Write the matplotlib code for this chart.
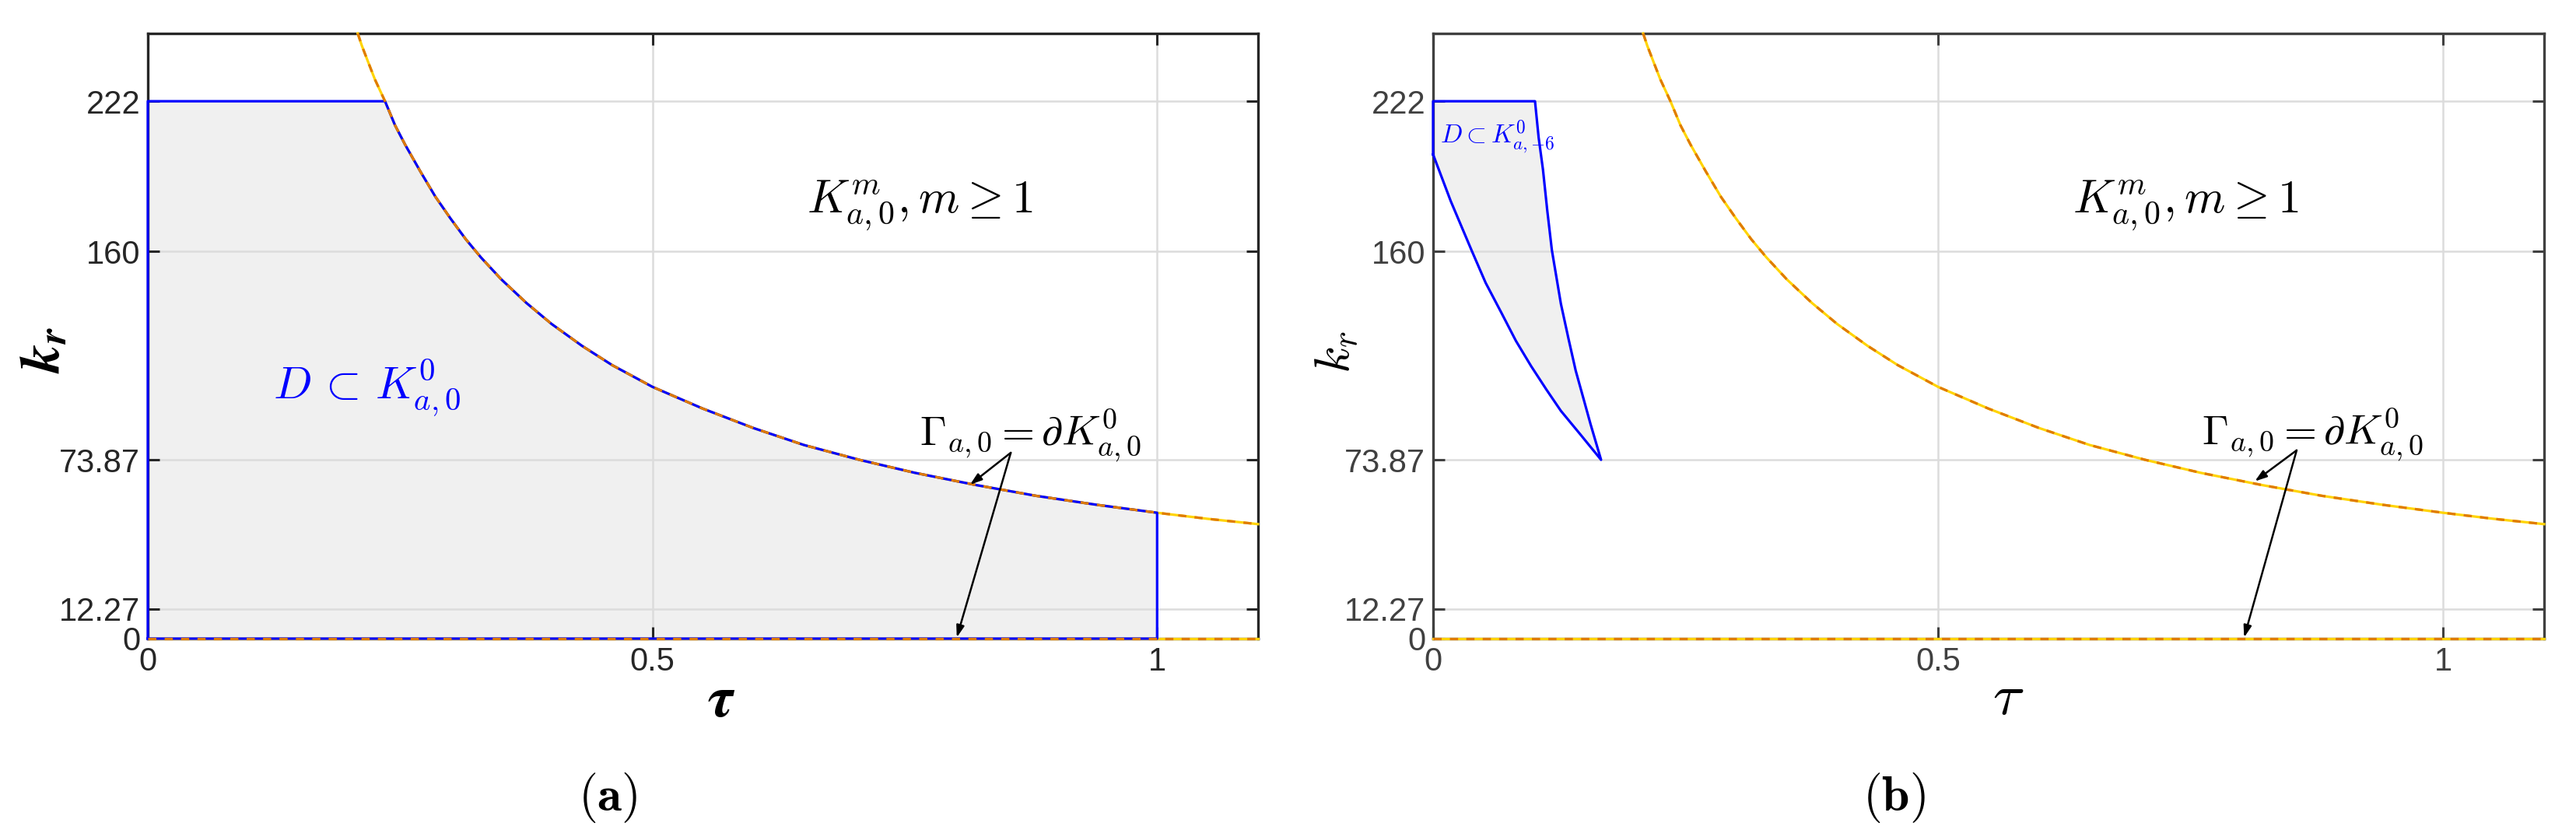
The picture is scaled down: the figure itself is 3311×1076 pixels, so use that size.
import matplotlib
matplotlib.use("Agg")
import matplotlib.pyplot as plt

plt.rcParams['font.family'] = ['Liberation Sans', 'DejaVu Sans']
plt.rcParams['mathtext.fontset'] = 'cm'

# boundary curve Gamma
tau_g = [0.208, 0.212, 0.218, 0.225, 0.235, 0.245, 0.255, 0.27, 0.285, 0.3, 0.315, 0.33,
         0.35, 0.375, 0.4, 0.43, 0.46, 0.5, 0.55, 0.6, 0.65, 0.705, 0.76, 0.82, 0.88,
         0.94, 1.0, 1.05, 1.1]
k_g = [250, 245, 238.5, 231, 222, 212, 204, 193, 182.5, 173.5, 165, 157.5,
       148.5, 138.7, 130, 121, 113, 104, 95, 87, 80, 73.87, 68.5, 63.5, 59,
       55.3, 52, 49.5, 47.3]

# region D in panel (b)
tau_b_right = [0.1009, 0.1045, 0.1088, 0.113, 0.1176, 0.1265, 0.134, 0.1412, 0.149, 0.1559, 0.1663]
k_b_right = [222, 207, 193.7, 177, 160.5, 138.4, 124, 110.7, 99, 88.6, 73.87]
tau_b_left = [0.1663, 0.1465, 0.1265, 0.112, 0.097, 0.082, 0.0675, 0.052, 0.038, 0.0174, 0.0]
k_b_left = [73.87, 84, 94.1, 103, 112.6, 123, 134.7, 147, 160.5, 180.8, 200]

k_top = 222
tau_a_end = 1.0
yticks = [0, 12.27, 73.87, 160, 222]
ylabels = ['0', '12.27', '73.87', '160', '222']
xticks = [0, 0.5, 1]
xlabels = ['0', '0.5', '1']

blue = '#0000FF'
orange = '#E07B00'
yellow = '#FFD400'
fillc = '#F0F0F0'

fig = plt.figure(figsize=(33.12, 10.76), dpi=100)
ax1 = fig.add_axes([0.05737, 0.23699, 0.43086, 0.72305])
ax2 = fig.add_axes([0.55616, 0.23699, 0.43116, 0.72305])

for ax, col in [(ax1, '#262626'), (ax2, '#404040')]:
    ax.set_xlim(0, 1.1)
    ax.set_ylim(0, 250)
    ax.set_xticks(xticks, xlabels)
    ax.set_yticks(yticks, ylabels)
    ax.tick_params(direction='in', length=11, width=2.2, top=True, right=True,
                   labelsize=30, pad=7, colors=col)
    ax.grid(True, color='#DCDCDC', lw=1.8)
    for s in ax.spines.values():
        s.set_linewidth(2.4)
        s.set_color(col)

    # Gamma: yellow base, drawn on both panels
    ax.plot(tau_g, k_g, color=yellow, lw=2.3, zorder=3, clip_on=False)
    ax.plot([0, 1.1], [0, 0], color=yellow, lw=2.3, zorder=3, clip_on=False)

# panel (a): region D
d_tau = [0, 0] + [t for t in tau_g if 0.235 <= t <= tau_a_end] + [tau_a_end, 0]
d_k = [0, k_top] + [k for t, k in zip(tau_g, k_g) if 0.235 <= t <= tau_a_end] + [0, 0]
ax1.fill(d_tau, d_k, color=fillc, zorder=1, lw=0)
ax1.plot(d_tau, d_k, color=blue, lw=2.3, zorder=3.5, clip_on=False)

# panel (b): region D
b_tau = [0, 0] + tau_b_right + tau_b_left
b_k = [200, k_top] + k_b_right + k_b_left
ax2.fill(b_tau, b_k, color=fillc, zorder=1, lw=0)
ax2.plot(b_tau, b_k, color=blue, lw=2.3, zorder=3.5, clip_on=False)

for ax in (ax1, ax2):
    ax.plot(tau_g, k_g, color=orange, lw=2.3, dashes=(3.3, 3.3), zorder=4, clip_on=False)
    ax.plot([0, 1.1], [0, 0], color=orange, lw=2.3, dashes=(3.3, 3.3), zorder=4, clip_on=False)

# texts
ax1.text(0.765, 176, r'$K^m_{a,0}, m \geq 1$', fontsize=43, ha='center', va='baseline')
ax2.text(0.745, 176, r'$K^m_{a,0}, m \geq 1$', fontsize=43, ha='center', va='baseline')
ax1.text(0.124, 99, r'$D\,\subset\,K^0_{a,0}$', fontsize=42, color=blue, ha='left', va='baseline')
ax2.text(0.007, 204.7, r'$D{\subset}K^0_{a,\mathsf{-6}}$', fontsize=24, color=blue,
         ha='left', va='baseline')
ax1.text(0.7645, 79.7, r'$\Gamma_{a,0} = \partial K^0_{a,0}$', fontsize=39, ha='left', va='baseline')
ax2.text(0.761, 80, r'$\Gamma_{a,0} = \partial K^0_{a,0}$', fontsize=39, ha='left', va='baseline')

arrow = dict(arrowstyle='-|>,head_length=0.9,head_width=0.3', color='black', lw=1.8,
             shrinkA=0, shrinkB=0)
for ax, tail, h1, h2 in [(ax1, (0.855, 76.8), (0.8146, 63.6), (0.8015, 0.5)),
                         (ax2, (0.855, 77.8), (0.8136, 65), (0.803, 0.5))]:
    ax.annotate('', xy=h1, xytext=tail, arrowprops=arrow, zorder=6)
    ax.annotate('', xy=h2, xytext=tail, arrowprops=arrow, zorder=6)

# axis labels
ax1.text(0.5165, -0.104, r'$\mathbfit{\tau}$', fontsize=54, ha='center', va='center',
         transform=ax1.transAxes, math_fontfamily='stix')
ax2.text(0.5175, -0.099, r'$\tau$', fontsize=54, ha='center', va='center',
         transform=ax2.transAxes)
ax1.text(-0.0925, 0.477, r'$\mathbfit{k_r}$', fontsize=52, ha='center', va='center', rotation=90,
         transform=ax1.transAxes, math_fontfamily='stix')
ax2.text(-0.086, 0.474, r'$k_r$', fontsize=46, ha='center', va='center', rotation=90,
         transform=ax2.transAxes)

fig.text(0.236, 0.047, r'$(\mathbf{a})$', fontsize=46, ha='center', va='center')
fig.text(0.735, 0.047, r'$(\mathbf{b})$', fontsize=46, ha='center', va='center')

fig.savefig('out.png', dpi=100)
